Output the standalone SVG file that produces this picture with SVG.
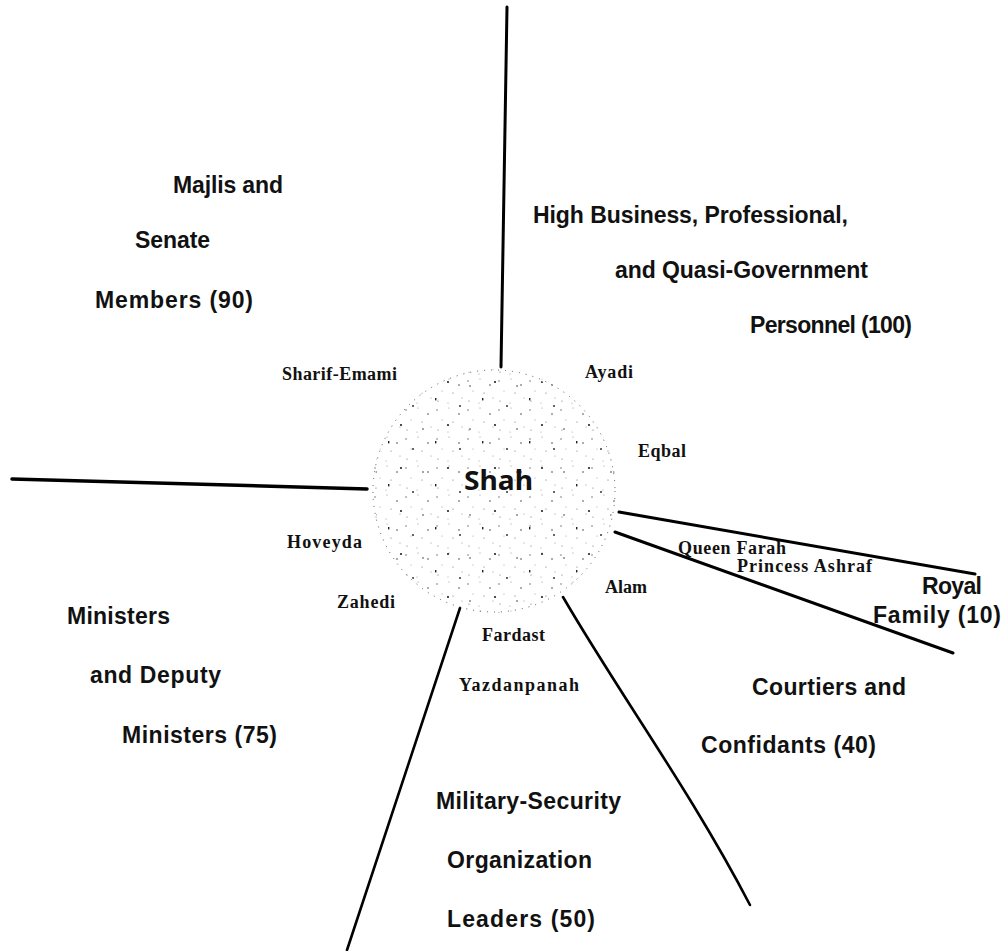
<svg xmlns="http://www.w3.org/2000/svg" width="1004" height="951" viewBox="0 0 1004 951">
<style>
.cat{font-family:"Liberation Sans",Arial,sans-serif;font-weight:bold;font-size:23px;fill:#111}
.per{font-family:"Liberation Serif","Times New Roman",serif;font-weight:bold;font-size:18px;fill:#111}
.ln{stroke:#000;stroke-width:3;fill:none;stroke-linecap:round;stroke-linejoin:round}
</style>
<defs>
<pattern id="stip" x="0" y="0" width="31" height="29" patternUnits="userSpaceOnUse">
<circle cx="3" cy="4" r="0.7" fill="#555"/>
<circle cx="15" cy="2" r="0.5" fill="#777"/>
<circle cx="25" cy="8" r="0.8" fill="#444"/>
<circle cx="8" cy="14" r="0.5" fill="#888"/>
<circle cx="19" cy="16" r="0.6" fill="#666"/>
<circle cx="28" cy="21" r="0.5" fill="#777"/>
<circle cx="4" cy="24" r="0.6" fill="#666"/>
<circle cx="14" cy="26" r="0.5" fill="#888"/>
</pattern>
<pattern id="stip2" x="7" y="5" width="47" height="43" patternUnits="userSpaceOnUse">
<rect x="5" y="6" width="1.4" height="2.4" fill="#222"/>
<circle cx="30" cy="14" r="1" fill="#333"/>
<circle cx="18" cy="33" r="1.1" fill="#222"/>
<circle cx="40" cy="37" r="0.8" fill="#333"/>
</pattern>
</defs>
<rect width="1004" height="951" fill="#fff"/>

<g id="connectors">
<path class="ln" d="M507,7 L501,367"/>
<path class="ln" style="stroke-width:3.5" d="M12,479 L367,489"/>
<path class="ln" d="M619,512 L975,574"/>
<path class="ln" d="M615,532 L953,653"/>
<path class="ln" style="stroke-width:2.6" d="M460,608 L347,950"/>
<path class="ln" style="stroke-width:2.6" d="M563,597 C620,695 690,790 750,905"/>
</g>

<g id="shah">
<circle cx="494" cy="491" r="122" fill="url(#stip)"/>
<circle cx="494" cy="491" r="120" fill="url(#stip2)"/>
<circle cx="494" cy="491" r="121" fill="none" stroke="#555" stroke-width="1" stroke-dasharray="1 6"/>
<text x="464" y="490" textLength="69" lengthAdjust="spacingAndGlyphs" style="font-family:'Noto Sans','Liberation Sans',sans-serif;font-weight:bold;font-size:27px;fill:#111">Shah</text>
</g>

<g id="majlis">
<text class="cat" x="173" y="193" textLength="110">Majlis and</text>
<text class="cat" x="135" y="248" textLength="75">Senate</text>
<text class="cat" x="95" y="308" textLength="158">Members (90)</text>
</g>

<g id="business">
<text class="cat" x="533" y="223" textLength="315">High Business, Professional,</text>
<text class="cat" x="615" y="278" textLength="253">and Quasi-Government</text>
<text class="cat" x="750" y="333" textLength="162">Personnel (100)</text>
</g>

<g id="royal">
<text class="cat" x="922" y="594" textLength="60">Royal</text>
<text class="cat" x="873" y="623" textLength="128">Family (10)</text>
</g>

<g id="courtiers">
<text class="cat" x="752" y="695" textLength="154">Courtiers and</text>
<text class="cat" x="701" y="753" textLength="175">Confidants (40)</text>
</g>

<g id="military">
<text class="cat" x="436" y="809" textLength="185">Military-Security</text>
<text class="cat" x="447" y="868" textLength="145">Organization</text>
<text class="cat" x="447" y="927" textLength="148">Leaders (50)</text>
</g>

<g id="ministers">
<text class="cat" x="67" y="624" textLength="103">Ministers</text>
<text class="cat" x="90" y="683" textLength="131">and Deputy</text>
<text class="cat" x="122" y="743" textLength="155">Ministers (75)</text>
</g>

<g id="sharif-emami"><text class="per" x="282" y="380" textLength="115">Sharif-Emami</text></g>
<g id="ayadi"><text class="per" x="585" y="378" textLength="48">Ayadi</text></g>
<g id="eqbal"><text class="per" x="638" y="457" textLength="48">Eqbal</text></g>
<g id="hoveyda"><text class="per" x="287" y="548" textLength="75">Hoveyda</text></g>
<g id="zahedi"><text class="per" x="337" y="608" textLength="58">Zahedi</text></g>
<g id="alam"><text class="per" x="605" y="593" textLength="42">Alam</text></g>
<g id="fardast"><text class="per" x="482" y="641" textLength="63">Fardast</text></g>
<g id="yazdanpanah"><text class="per" x="459" y="691" textLength="120">Yazdanpanah</text></g>
<g id="queen-farah"><text class="per" x="678" y="554" textLength="108">Queen Farah</text></g>
<g id="princess-ashraf"><text class="per" x="737" y="572" textLength="135">Princess Ashraf</text></g>
</svg>
